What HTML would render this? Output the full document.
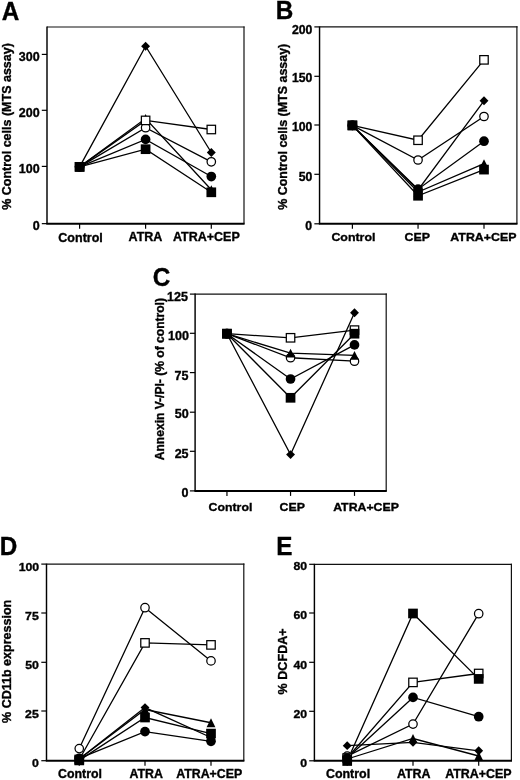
<!DOCTYPE html>
<html><head><meta charset="utf-8"><style>
html,body{margin:0;padding:0;background:#fff;}
svg{display:block;filter:grayscale(1);}
text{font-family:"Liberation Sans", sans-serif;fill:#000;stroke:#000;stroke-width:0.35px;}
</style></head><body>
<svg width="520" height="780" viewBox="0 0 520 780">
<rect width="520" height="780" fill="#fff"/>
<line x1="47.0" y1="27.0" x2="244.6" y2="27.0" stroke="#111" stroke-width="1.15"/>
<line x1="244.0" y1="26.425" x2="244.0" y2="223.65" stroke="#111" stroke-width="1.2"/>
<line x1="47.0" y1="26.5" x2="47.0" y2="223.65" stroke="#000" stroke-width="1.45"/>
<line x1="46.3" y1="223.65" x2="244.6" y2="223.65" stroke="#000" stroke-width="2"/>
<line x1="41.8" y1="223.65" x2="47.0" y2="223.65" stroke="#000" stroke-width="1.2"/>
<line x1="41.8" y1="166.4" x2="47.0" y2="166.4" stroke="#000" stroke-width="1.2"/>
<line x1="41.8" y1="110.3" x2="47.0" y2="110.3" stroke="#000" stroke-width="1.2"/>
<line x1="41.8" y1="54.4" x2="47.0" y2="54.4" stroke="#000" stroke-width="1.2"/>
<line x1="79.6" y1="223.65" x2="79.6" y2="228.65" stroke="#000" stroke-width="1.2"/>
<line x1="145.6" y1="223.65" x2="145.6" y2="228.65" stroke="#000" stroke-width="1.2"/>
<line x1="211.3" y1="223.65" x2="211.3" y2="228.65" stroke="#000" stroke-width="1.2"/>
<text transform="translate(18.77,61.15) scale(1.0361,1)" font-size="12.072" font-weight="bold">300</text>
<text transform="translate(18.77,117.05) scale(1.0361,1)" font-size="12.072" font-weight="bold">200</text>
<text transform="translate(18.77,172.95) scale(1.0361,1)" font-size="12.072" font-weight="bold">100</text>
<text transform="translate(32.68,230.15) scale(1.0361,1)" font-size="12.072" font-weight="bold">0</text>
<text transform="translate(58.33,241.51) scale(0.9935,1)" font-size="12.602" font-weight="bold">Control</text>
<text transform="translate(128.58,241.44) scale(0.9935,1)" font-size="12.602" font-weight="bold">ATRA</text>
<text transform="translate(172.91,241.49) scale(0.9935,1)" font-size="12.602" font-weight="bold">ATRA+CEP</text>
<text transform="translate(10.62,209.84) rotate(-90)" font-size="12.506" font-weight="bold">% Control cells (MTS assay)</text>
<text transform="translate(1.74,19.55) scale(0.9496,1)" font-size="25.590" font-weight="bold">A</text>
<polyline points="79.60,166.85 145.60,46.20 211.30,152.50" fill="none" stroke="#000" stroke-width="1.3" stroke-linejoin="miter"/>
<polyline points="79.60,166.85 145.60,118.50 211.30,189.70" fill="none" stroke="#000" stroke-width="1.3" stroke-linejoin="miter"/>
<polyline points="79.60,166.85 145.60,127.70 211.30,161.80" fill="none" stroke="#000" stroke-width="1.3" stroke-linejoin="miter"/>
<polyline points="79.60,166.85 145.60,120.40 211.30,129.50" fill="none" stroke="#000" stroke-width="1.3" stroke-linejoin="miter"/>
<polyline points="79.60,166.85 145.60,139.40 211.30,176.55" fill="none" stroke="#000" stroke-width="1.3" stroke-linejoin="miter"/>
<polyline points="79.60,166.85 145.60,149.20 211.30,192.30" fill="none" stroke="#000" stroke-width="1.3" stroke-linejoin="miter"/>
<polygon points="79.60,162.40 84.05,166.85 79.60,171.30 75.15,166.85" fill="#000"/>
<polygon points="145.60,41.75 150.05,46.20 145.60,50.65 141.15,46.20" fill="#000"/>
<polygon points="211.30,148.05 215.75,152.50 211.30,156.95 206.85,152.50" fill="#000"/>
<polygon points="79.60,162.45 84.00,171.25 75.20,171.25" fill="#000"/>
<polygon points="145.60,114.10 150.00,122.90 141.20,122.90" fill="#000"/>
<polygon points="211.30,185.30 215.70,194.10 206.90,194.10" fill="#000"/>
<circle cx="79.60" cy="166.85" r="4.22" fill="#fff" stroke="#000" stroke-width="1.25"/>
<circle cx="145.60" cy="127.70" r="4.22" fill="#fff" stroke="#000" stroke-width="1.25"/>
<circle cx="211.30" cy="161.80" r="4.22" fill="#fff" stroke="#000" stroke-width="1.25"/>
<rect x="75.38" y="162.62" width="8.45" height="8.45" fill="#fff" stroke="#000" stroke-width="1.25"/>
<rect x="141.38" y="116.18" width="8.45" height="8.45" fill="#fff" stroke="#000" stroke-width="1.25"/>
<rect x="207.08" y="125.28" width="8.45" height="8.45" fill="#fff" stroke="#000" stroke-width="1.25"/>
<circle cx="79.60" cy="166.85" r="4.85" fill="#000"/>
<circle cx="145.60" cy="139.40" r="4.85" fill="#000"/>
<circle cx="211.30" cy="176.55" r="4.85" fill="#000"/>
<rect x="74.75" y="162.00" width="9.70" height="9.70" fill="#000"/>
<rect x="140.75" y="144.35" width="9.70" height="9.70" fill="#000"/>
<rect x="206.45" y="187.45" width="9.70" height="9.70" fill="#000"/>
<line x1="319.55" y1="26.9" x2="517.5" y2="26.9" stroke="#111" stroke-width="1.15"/>
<line x1="516.9" y1="26.325" x2="516.9" y2="223.8" stroke="#111" stroke-width="1.2"/>
<line x1="319.55" y1="26.4" x2="319.55" y2="223.8" stroke="#000" stroke-width="1.45"/>
<line x1="318.85" y1="223.8" x2="517.5" y2="223.8" stroke="#000" stroke-width="2"/>
<line x1="314.35" y1="223.8" x2="319.55" y2="223.8" stroke="#000" stroke-width="1.2"/>
<line x1="314.35" y1="174.3" x2="319.55" y2="174.3" stroke="#000" stroke-width="1.2"/>
<line x1="314.35" y1="125.0" x2="319.55" y2="125.0" stroke="#000" stroke-width="1.2"/>
<line x1="314.35" y1="76.3" x2="319.55" y2="76.3" stroke="#000" stroke-width="1.2"/>
<line x1="314.35" y1="26.9" x2="319.55" y2="26.9" stroke="#000" stroke-width="1.2"/>
<line x1="352.4" y1="223.8" x2="352.4" y2="228.8" stroke="#000" stroke-width="1.2"/>
<line x1="418.05" y1="223.8" x2="418.05" y2="228.8" stroke="#000" stroke-width="1.2"/>
<line x1="484.0" y1="223.8" x2="484.0" y2="228.8" stroke="#000" stroke-width="1.2"/>
<text transform="translate(291.88,33.55) scale(1.0233,1)" font-size="11.977" font-weight="bold">200</text>
<text transform="translate(291.88,82.42) scale(1.0233,1)" font-size="11.977" font-weight="bold">150</text>
<text transform="translate(291.88,131.37) scale(1.0233,1)" font-size="11.977" font-weight="bold">100</text>
<text transform="translate(298.70,180.62) scale(1.0233,1)" font-size="11.977" font-weight="bold">50</text>
<text transform="translate(305.31,229.52) scale(1.0233,1)" font-size="11.977" font-weight="bold">0</text>
<text transform="translate(331.41,240.81) scale(1.0510,1)" font-size="11.789" font-weight="bold">Control</text>
<text transform="translate(404.62,240.66) scale(1.0510,1)" font-size="11.789" font-weight="bold">CEP</text>
<text transform="translate(450.30,240.66) scale(1.0510,1)" font-size="11.789" font-weight="bold">ATRA+CEP</text>
<text transform="translate(287.32,209.84) rotate(-90)" font-size="12.460" font-weight="bold">% Control cells (MTS assay)</text>
<text transform="translate(275.86,19.45) scale(0.9496,1)" font-size="25.590" font-weight="bold">B</text>
<polyline points="352.40,125.40 418.05,140.25 484.00,59.85" fill="none" stroke="#000" stroke-width="1.3" stroke-linejoin="miter"/>
<polyline points="352.40,125.40 418.05,160.00 484.00,116.50" fill="none" stroke="#000" stroke-width="1.3" stroke-linejoin="miter"/>
<polyline points="352.40,125.40 418.05,190.00 484.00,100.80" fill="none" stroke="#000" stroke-width="1.3" stroke-linejoin="miter"/>
<polyline points="352.40,125.40 418.05,189.20 484.00,141.20" fill="none" stroke="#000" stroke-width="1.3" stroke-linejoin="miter"/>
<polyline points="352.40,125.40 418.05,192.00 484.00,163.60" fill="none" stroke="#000" stroke-width="1.3" stroke-linejoin="miter"/>
<polyline points="352.40,125.40 418.05,195.75 484.00,169.60" fill="none" stroke="#000" stroke-width="1.3" stroke-linejoin="miter"/>
<rect x="348.17" y="121.18" width="8.45" height="8.45" fill="#fff" stroke="#000" stroke-width="1.25"/>
<rect x="413.82" y="136.03" width="8.45" height="8.45" fill="#fff" stroke="#000" stroke-width="1.25"/>
<rect x="479.77" y="55.62" width="8.45" height="8.45" fill="#fff" stroke="#000" stroke-width="1.25"/>
<circle cx="352.40" cy="125.40" r="4.22" fill="#fff" stroke="#000" stroke-width="1.25"/>
<circle cx="418.05" cy="160.00" r="4.22" fill="#fff" stroke="#000" stroke-width="1.25"/>
<circle cx="484.00" cy="116.50" r="4.22" fill="#fff" stroke="#000" stroke-width="1.25"/>
<polygon points="352.40,120.95 356.85,125.40 352.40,129.85 347.95,125.40" fill="#000"/>
<polygon points="418.05,185.55 422.50,190.00 418.05,194.45 413.60,190.00" fill="#000"/>
<polygon points="484.00,96.35 488.45,100.80 484.00,105.25 479.55,100.80" fill="#000"/>
<circle cx="352.40" cy="125.40" r="4.85" fill="#000"/>
<circle cx="418.05" cy="189.20" r="4.85" fill="#000"/>
<circle cx="484.00" cy="141.20" r="4.85" fill="#000"/>
<polygon points="352.40,121.00 356.80,129.80 348.00,129.80" fill="#000"/>
<polygon points="418.05,187.60 422.45,196.40 413.65,196.40" fill="#000"/>
<polygon points="484.00,159.20 488.40,168.00 479.60,168.00" fill="#000"/>
<rect x="347.55" y="120.55" width="9.70" height="9.70" fill="#000"/>
<rect x="413.20" y="190.90" width="9.70" height="9.70" fill="#000"/>
<rect x="479.15" y="164.75" width="9.70" height="9.70" fill="#000"/>
<line x1="195.1" y1="294.1" x2="386.8" y2="294.1" stroke="#111" stroke-width="1.15"/>
<line x1="386.2" y1="293.52500000000003" x2="386.2" y2="490.9" stroke="#111" stroke-width="1.2"/>
<line x1="195.1" y1="293.6" x2="195.1" y2="490.9" stroke="#000" stroke-width="1.45"/>
<line x1="194.4" y1="490.9" x2="386.8" y2="490.9" stroke="#000" stroke-width="2"/>
<line x1="189.9" y1="490.9" x2="195.1" y2="490.9" stroke="#000" stroke-width="1.2"/>
<line x1="189.9" y1="451.3" x2="195.1" y2="451.3" stroke="#000" stroke-width="1.2"/>
<line x1="189.9" y1="412.2" x2="195.1" y2="412.2" stroke="#000" stroke-width="1.2"/>
<line x1="189.9" y1="372.6" x2="195.1" y2="372.6" stroke="#000" stroke-width="1.2"/>
<line x1="189.9" y1="333.3" x2="195.1" y2="333.3" stroke="#000" stroke-width="1.2"/>
<line x1="189.9" y1="294.1" x2="195.1" y2="294.1" stroke="#000" stroke-width="1.2"/>
<line x1="226.95" y1="490.9" x2="226.95" y2="495.9" stroke="#000" stroke-width="1.2"/>
<line x1="290.55" y1="490.9" x2="290.55" y2="495.9" stroke="#000" stroke-width="1.2"/>
<line x1="354.5" y1="490.9" x2="354.5" y2="495.9" stroke="#000" stroke-width="1.2"/>
<text transform="translate(167.06,300.68) scale(1.0563,1)" font-size="11.869" font-weight="bold">125</text>
<text transform="translate(168.03,340.03) scale(1.0563,1)" font-size="11.869" font-weight="bold">100</text>
<text transform="translate(174.44,379.57) scale(1.0563,1)" font-size="11.869" font-weight="bold">75</text>
<text transform="translate(174.80,418.38) scale(1.0563,1)" font-size="11.869" font-weight="bold">50</text>
<text transform="translate(174.64,458.28) scale(1.0563,1)" font-size="11.869" font-weight="bold">25</text>
<text transform="translate(181.57,497.18) scale(1.0563,1)" font-size="11.869" font-weight="bold">0</text>
<text transform="translate(208.58,510.61) scale(1.0452,1)" font-size="11.789" font-weight="bold">Control</text>
<text transform="translate(279.59,510.66) scale(1.0452,1)" font-size="11.789" font-weight="bold">CEP</text>
<text transform="translate(333.14,510.66) scale(1.0452,1)" font-size="11.789" font-weight="bold">ATRA+CEP</text>
<text transform="translate(163.82,460.23) rotate(-90)" font-size="12.076" font-weight="bold">Annexin V-/PI- (% of control)</text>
<text transform="translate(152.76,286.20) scale(0.9496,1)" font-size="25.590" font-weight="bold">C</text>
<polyline points="226.95,333.70 290.55,454.60 354.50,312.80" fill="none" stroke="#000" stroke-width="1.3" stroke-linejoin="miter"/>
<polyline points="226.95,333.70 290.55,337.80 354.50,330.10" fill="none" stroke="#000" stroke-width="1.3" stroke-linejoin="miter"/>
<polyline points="226.95,333.70 290.55,357.75 354.50,361.20" fill="none" stroke="#000" stroke-width="1.3" stroke-linejoin="miter"/>
<polyline points="226.95,333.70 290.55,353.15 354.50,355.40" fill="none" stroke="#000" stroke-width="1.3" stroke-linejoin="miter"/>
<polyline points="226.95,333.70 290.55,379.00 354.50,344.90" fill="none" stroke="#000" stroke-width="1.3" stroke-linejoin="miter"/>
<polyline points="226.95,333.70 290.55,397.80 354.50,333.70" fill="none" stroke="#000" stroke-width="1.3" stroke-linejoin="miter"/>
<polygon points="226.95,329.25 231.40,333.70 226.95,338.15 222.50,333.70" fill="#000"/>
<polygon points="290.55,450.15 295.00,454.60 290.55,459.05 286.10,454.60" fill="#000"/>
<polygon points="354.50,308.35 358.95,312.80 354.50,317.25 350.05,312.80" fill="#000"/>
<rect x="222.72" y="329.47" width="8.45" height="8.45" fill="#fff" stroke="#000" stroke-width="1.25"/>
<rect x="286.32" y="333.57" width="8.45" height="8.45" fill="#fff" stroke="#000" stroke-width="1.25"/>
<rect x="350.27" y="325.88" width="8.45" height="8.45" fill="#fff" stroke="#000" stroke-width="1.25"/>
<circle cx="226.95" cy="333.70" r="4.22" fill="#fff" stroke="#000" stroke-width="1.25"/>
<circle cx="290.55" cy="357.75" r="4.22" fill="#fff" stroke="#000" stroke-width="1.25"/>
<circle cx="354.50" cy="361.20" r="4.22" fill="#fff" stroke="#000" stroke-width="1.25"/>
<polygon points="226.95,329.30 231.35,338.10 222.55,338.10" fill="#000"/>
<polygon points="290.55,348.75 294.95,357.55 286.15,357.55" fill="#000"/>
<polygon points="354.50,351.00 358.90,359.80 350.10,359.80" fill="#000"/>
<circle cx="226.95" cy="333.70" r="4.85" fill="#000"/>
<circle cx="290.55" cy="379.00" r="4.85" fill="#000"/>
<circle cx="354.50" cy="344.90" r="4.85" fill="#000"/>
<rect x="222.10" y="328.85" width="9.70" height="9.70" fill="#000"/>
<rect x="285.70" y="392.95" width="9.70" height="9.70" fill="#000"/>
<rect x="349.65" y="328.85" width="9.70" height="9.70" fill="#000"/>
<line x1="46.5" y1="564.1" x2="244.4" y2="564.1" stroke="#111" stroke-width="1.15"/>
<line x1="243.8" y1="563.525" x2="243.8" y2="760.7" stroke="#111" stroke-width="1.2"/>
<line x1="46.5" y1="563.6" x2="46.5" y2="760.7" stroke="#000" stroke-width="1.45"/>
<line x1="45.8" y1="760.7" x2="244.4" y2="760.7" stroke="#000" stroke-width="2"/>
<line x1="41.3" y1="760.7" x2="46.5" y2="760.7" stroke="#000" stroke-width="1.2"/>
<line x1="41.3" y1="711.0" x2="46.5" y2="711.0" stroke="#000" stroke-width="1.2"/>
<line x1="41.3" y1="662.3" x2="46.5" y2="662.3" stroke="#000" stroke-width="1.2"/>
<line x1="41.3" y1="613.0" x2="46.5" y2="613.0" stroke="#000" stroke-width="1.2"/>
<line x1="41.3" y1="564.1" x2="46.5" y2="564.1" stroke="#000" stroke-width="1.2"/>
<line x1="79.25" y1="760.7" x2="79.25" y2="765.7" stroke="#000" stroke-width="1.2"/>
<line x1="145.0" y1="760.7" x2="145.0" y2="765.7" stroke="#000" stroke-width="1.2"/>
<line x1="211.0" y1="760.7" x2="211.0" y2="765.7" stroke="#000" stroke-width="1.2"/>
<text transform="translate(18.66,570.51) scale(1.0579,1)" font-size="11.657" font-weight="bold">100</text>
<text transform="translate(25.06,619.50) scale(1.0579,1)" font-size="11.657" font-weight="bold">75</text>
<text transform="translate(25.22,668.91) scale(1.0579,1)" font-size="11.657" font-weight="bold">50</text>
<text transform="translate(25.06,717.76) scale(1.0579,1)" font-size="11.657" font-weight="bold">25</text>
<text transform="translate(32.07,767.26) scale(1.0579,1)" font-size="11.657" font-weight="bold">0</text>
<text transform="translate(58.04,778.15) scale(1.0280,1)" font-size="12.036" font-weight="bold">Control</text>
<text transform="translate(129.53,777.99) scale(1.0280,1)" font-size="12.036" font-weight="bold">ATRA</text>
<text transform="translate(176.20,777.99) scale(1.0280,1)" font-size="12.036" font-weight="bold">ATRA+CEP</text>
<text transform="translate(10.92,722.94) rotate(-90)" font-size="12.527" font-weight="bold">% CD11b expression</text>
<text transform="translate(-0.15,554.65) scale(0.9496,1)" font-size="25.590" font-weight="bold">D</text>
<polyline points="79.25,748.60 145.00,607.70 211.00,660.90" fill="none" stroke="#000" stroke-width="1.3" stroke-linejoin="miter"/>
<polyline points="79.25,759.50 145.00,642.90 211.00,644.90" fill="none" stroke="#000" stroke-width="1.3" stroke-linejoin="miter"/>
<polyline points="79.25,759.00 145.00,707.60 211.00,737.50" fill="none" stroke="#000" stroke-width="1.3" stroke-linejoin="miter"/>
<polyline points="79.25,759.00 145.00,709.50 211.00,722.75" fill="none" stroke="#000" stroke-width="1.3" stroke-linejoin="miter"/>
<polyline points="79.25,760.40 145.00,717.50 211.00,733.60" fill="none" stroke="#000" stroke-width="1.3" stroke-linejoin="miter"/>
<polyline points="79.25,758.30 145.00,731.60 211.00,741.30" fill="none" stroke="#000" stroke-width="1.3" stroke-linejoin="miter"/>
<circle cx="79.25" cy="748.60" r="4.22" fill="#fff" stroke="#000" stroke-width="1.25"/>
<circle cx="145.00" cy="607.70" r="4.22" fill="#fff" stroke="#000" stroke-width="1.25"/>
<circle cx="211.00" cy="660.90" r="4.22" fill="#fff" stroke="#000" stroke-width="1.25"/>
<rect x="75.03" y="755.27" width="8.45" height="8.45" fill="#fff" stroke="#000" stroke-width="1.25"/>
<rect x="140.78" y="638.67" width="8.45" height="8.45" fill="#fff" stroke="#000" stroke-width="1.25"/>
<rect x="206.78" y="640.67" width="8.45" height="8.45" fill="#fff" stroke="#000" stroke-width="1.25"/>
<polygon points="79.25,754.55 83.70,759.00 79.25,763.45 74.80,759.00" fill="#000"/>
<polygon points="145.00,703.15 149.45,707.60 145.00,712.05 140.55,707.60" fill="#000"/>
<polygon points="211.00,733.05 215.45,737.50 211.00,741.95 206.55,737.50" fill="#000"/>
<polygon points="79.25,754.60 83.65,763.40 74.85,763.40" fill="#000"/>
<polygon points="145.00,705.10 149.40,713.90 140.60,713.90" fill="#000"/>
<polygon points="211.00,718.35 215.40,727.15 206.60,727.15" fill="#000"/>
<rect x="74.40" y="755.55" width="9.70" height="9.70" fill="#000"/>
<rect x="140.15" y="712.65" width="9.70" height="9.70" fill="#000"/>
<rect x="206.15" y="728.75" width="9.70" height="9.70" fill="#000"/>
<circle cx="79.25" cy="758.30" r="4.85" fill="#000"/>
<circle cx="145.00" cy="731.60" r="4.85" fill="#000"/>
<circle cx="211.00" cy="741.30" r="4.85" fill="#000"/>
<line x1="314.4" y1="564.3" x2="512.0" y2="564.3" stroke="#111" stroke-width="1.15"/>
<line x1="511.4" y1="563.7249999999999" x2="511.4" y2="760.8" stroke="#111" stroke-width="1.2"/>
<line x1="314.4" y1="563.8" x2="314.4" y2="760.8" stroke="#000" stroke-width="1.45"/>
<line x1="313.7" y1="760.8" x2="512.0" y2="760.8" stroke="#000" stroke-width="2"/>
<line x1="309.2" y1="760.8" x2="314.4" y2="760.8" stroke="#000" stroke-width="1.2"/>
<line x1="309.2" y1="711.3" x2="314.4" y2="711.3" stroke="#000" stroke-width="1.2"/>
<line x1="309.2" y1="662.3" x2="314.4" y2="662.3" stroke="#000" stroke-width="1.2"/>
<line x1="309.2" y1="613.0" x2="314.4" y2="613.0" stroke="#000" stroke-width="1.2"/>
<line x1="309.2" y1="564.3" x2="314.4" y2="564.3" stroke="#000" stroke-width="1.2"/>
<line x1="347.2" y1="760.8" x2="347.2" y2="765.8" stroke="#000" stroke-width="1.2"/>
<line x1="413.0" y1="760.8" x2="413.0" y2="765.8" stroke="#000" stroke-width="1.2"/>
<line x1="478.7" y1="760.8" x2="478.7" y2="765.8" stroke="#000" stroke-width="1.2"/>
<text transform="translate(293.48,570.48) scale(1.0744,1)" font-size="11.427" font-weight="bold">80</text>
<text transform="translate(293.48,619.38) scale(1.0744,1)" font-size="11.427" font-weight="bold">60</text>
<text transform="translate(293.48,668.58) scale(1.0744,1)" font-size="11.427" font-weight="bold">40</text>
<text transform="translate(293.48,717.53) scale(1.0744,1)" font-size="11.427" font-weight="bold">20</text>
<text transform="translate(300.30,767.18) scale(1.0744,1)" font-size="11.427" font-weight="bold">0</text>
<text transform="translate(325.92,778.10) scale(1.0459,1)" font-size="11.895" font-weight="bold">Control</text>
<text transform="translate(396.94,777.94) scale(1.0459,1)" font-size="11.895" font-weight="bold">ATRA</text>
<text transform="translate(445.17,777.79) scale(1.0459,1)" font-size="11.895" font-weight="bold">ATRA+CEP</text>
<text transform="translate(286.62,694.44) rotate(-90)" font-size="12.604" font-weight="bold">% DCFDA+</text>
<text transform="translate(276.13,554.80) scale(0.9496,1)" font-size="25.590" font-weight="bold">E</text>
<polyline points="347.20,745.65 413.00,742.30 478.70,750.80" fill="none" stroke="#000" stroke-width="1.3" stroke-linejoin="miter"/>
<polyline points="347.20,759.00 413.00,738.50 478.70,756.00" fill="none" stroke="#000" stroke-width="1.3" stroke-linejoin="miter"/>
<polyline points="347.20,756.10 413.00,724.10 478.70,613.70" fill="none" stroke="#000" stroke-width="1.3" stroke-linejoin="miter"/>
<polyline points="347.20,758.00 413.00,682.40 478.70,673.50" fill="none" stroke="#000" stroke-width="1.3" stroke-linejoin="miter"/>
<polyline points="347.20,758.00 413.00,697.40 478.70,716.70" fill="none" stroke="#000" stroke-width="1.3" stroke-linejoin="miter"/>
<polyline points="347.20,761.00 413.00,613.50 478.70,678.90" fill="none" stroke="#000" stroke-width="1.3" stroke-linejoin="miter"/>
<polygon points="347.20,741.20 351.65,745.65 347.20,750.10 342.75,745.65" fill="#000"/>
<polygon points="413.00,737.85 417.45,742.30 413.00,746.75 408.55,742.30" fill="#000"/>
<polygon points="478.70,746.35 483.15,750.80 478.70,755.25 474.25,750.80" fill="#000"/>
<polygon points="347.20,754.60 351.60,763.40 342.80,763.40" fill="#000"/>
<polygon points="413.00,734.10 417.40,742.90 408.60,742.90" fill="#000"/>
<polygon points="478.70,751.60 483.10,760.40 474.30,760.40" fill="#000"/>
<circle cx="347.20" cy="756.10" r="4.22" fill="#fff" stroke="#000" stroke-width="1.25"/>
<circle cx="413.00" cy="724.10" r="4.22" fill="#fff" stroke="#000" stroke-width="1.25"/>
<circle cx="478.70" cy="613.70" r="4.22" fill="#fff" stroke="#000" stroke-width="1.25"/>
<rect x="342.97" y="753.77" width="8.45" height="8.45" fill="#fff" stroke="#000" stroke-width="1.25"/>
<rect x="408.77" y="678.17" width="8.45" height="8.45" fill="#fff" stroke="#000" stroke-width="1.25"/>
<rect x="474.47" y="669.27" width="8.45" height="8.45" fill="#fff" stroke="#000" stroke-width="1.25"/>
<circle cx="347.20" cy="758.00" r="4.85" fill="#000"/>
<circle cx="413.00" cy="697.40" r="4.85" fill="#000"/>
<circle cx="478.70" cy="716.70" r="4.85" fill="#000"/>
<rect x="342.35" y="756.15" width="9.70" height="9.70" fill="#000"/>
<rect x="408.15" y="608.65" width="9.70" height="9.70" fill="#000"/>
<rect x="473.85" y="674.05" width="9.70" height="9.70" fill="#000"/>
</svg>
</body></html>
